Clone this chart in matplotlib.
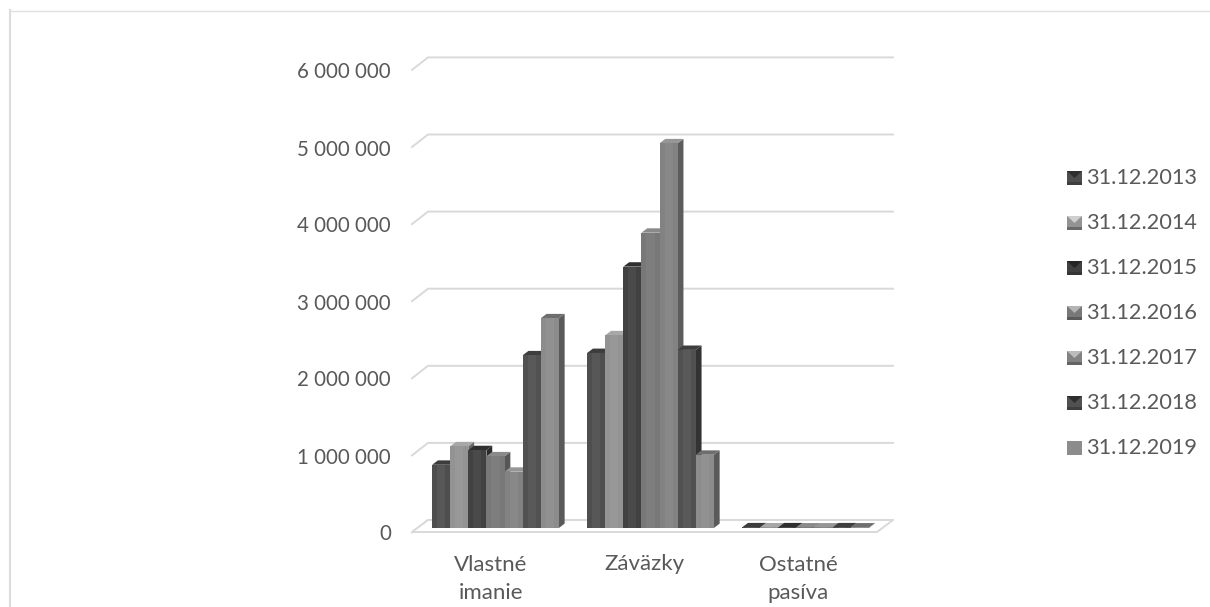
import matplotlib
matplotlib.use("Agg")
import matplotlib.pyplot as plt
from matplotlib.patches import Polygon

plt.rcParams['font.family'] = ['Lato', 'DejaVu Sans']

# Data
categories = ['Vlastné\nimanie', 'Záväzky', 'Ostatné\npasíva']
dates = ['31.12.2013', '31.12.2014', '31.12.2015', '31.12.2016',
         '31.12.2017', '31.12.2018', '31.12.2019']
y2013 = [820000, 2270000, 9000]
y2014 = [1060000, 2500000, 8000]
y2015 = [1010000, 3390000, 9000]
y2016 = [930000, 3830000, 7000]
y2017 = [730000, 4990000, 7000]
y2018 = [2240000, 2310000, 9000]
y2019 = [2720000, 950000, 7000]
series = [y2013, y2014, y2015, y2016, y2017, y2018, y2019]
yticks = [0, 1000000, 2000000, 3000000, 4000000, 5000000, 6000000]

front = ['#4e4e4e', '#939393', '#414141', '#787878', '#828282', '#515151', '#8c8c8c']
top = ['#3c3c3c', '#a8a8a8', '#2f2f2f', '#8a8a8a', '#969696', '#3e3e3e', '#6e6e6e']
side = ['#343434', '#666666', '#2b2b2b', '#565656', '#5c5c5c', '#333333', '#5a5a5a']
mark_top = ['#2e2e2e', '#cfcfcf', '#262626', '#b4b4b4', '#bcbcbc', '#2e2e2e', '#8c8c8c']
mark_low = ['#3e3e3e', '#6a6a6a', '#363636', '#5a5a5a', '#646464', '#3e3e3e', '#8c8c8c']
text_color = '#595959'
grid_color = '#d9d9d9'

W, H = 1210, 607
PX_X = 155.0          # pixels per category
PX_Y = 77.1 / 1e6     # pixels per unit of value
X0, Y0 = 495.5, 528   # pixel position of first category centre / value zero

fig = plt.figure(figsize=(W / 100, H / 100), dpi=100)
ax = fig.add_axes([0, 0, 1, 1])
ax.set_xlim(-X0 / PX_X, (W - X0) / PX_X)
ax.set_ylim((Y0 - H) / PX_Y, Y0 / PX_Y)
ax.axis('off')


def px(x, y):
    # pixel position (from top left) to data coordinates
    return (x - X0) / PX_X, (Y0 - y) / PX_Y


# Bar geometry
bar_w = 18.1 / PX_X
dx = 5.8 / PX_X
dy = 4.4 / PX_Y
n = len(series)

# Outer frame of the chart, only top and left are in view
fig.add_artist(plt.Line2D([10 / W, 10 / W], [0, 1 - 10 / H], color='#dcdcdc', lw=1.5))
fig.add_artist(plt.Line2D([10 / W, 1], [1 - 10.5 / H, 1 - 10.5 / H], color='#e0e0e0', lw=1.0))

# Gridlines on the back wall with the short diagonals on the side wall
for v in yticks:
    xl, yl = px(412, 532.5 - v * PX_Y)
    xb, yb = px(428, 520 - v * PX_Y)
    xr, _ = px(893, 0)
    ax.plot([xl, xb, xr], [yl, yb, yb], color=grid_color, lw=1.4, zorder=1,
            solid_joinstyle='miter')

# Floor
floor = [px(412, 532), px(428, 520), px(893, 520), px(877, 532)]
ax.add_patch(Polygon(floor, closed=True, fc='white', ec=grid_color, lw=1.4, zorder=1))

# Bars, drawn left to right so each front face covers the neighbour's side
for c in range(len(categories)):
    for i in range(n):
        v = series[i][c]
        x = c + (i - (n - 1) / 2) * bar_w
        left, right = x - bar_w / 2, x + bar_w / 2
        ax.add_patch(Polygon([(right, 0), (right + dx, dy), (right + dx, v + dy), (right, v)],
                             closed=True, fc=side[i], ec='none', zorder=2 + i))
        ax.add_patch(Polygon([(left, v), (left + dx, v + dy), (right + dx, v + dy), (right, v)],
                             closed=True, fc=top[i], ec='none', zorder=2 + i))
        ax.bar(x, v, bar_w, color=front[i], zorder=2 + i + 0.1)
        # lighter stripe down the middle of the face
        ax.bar(x, v, bar_w * 0.45, color='white', alpha=0.05, zorder=2 + i + 0.2)

# Value axis labels
for v in yticks:
    xt, yt = px(391, 534.5 - v * 77 / 1e6)
    ax.text(xt, yt, f'{v:,}'.replace(',', ' '), ha='right', va='center',
            fontsize=14.8, color=text_color)

# Category labels
for c, label in enumerate(categories):
    line_y = 564 if '\n' not in label else 579
    xt, yt = px(491 + c * 153.5, line_y)
    ax.text(xt, yt, label, ha='center', va='center', fontsize=16,
            color=text_color, linespacing=1.55)

# Legend
leg_y = [177, 222, 267, 312, 357, 402, 447]
for i, (name, y) in enumerate(zip(dates, leg_y)):
    x0, x1 = 1067 / W, 1082 / W
    y0, y1 = 1 - (y + 8) / H, 1 - (y - 6) / H
    xm, ym = (x0 + x1) / 2, (y0 + y1) / 2
    strip = y0 + 3 / H
    fig.add_artist(Polygon([(x0, y0), (x1, y0), (x1, y1), (x0, y1)], closed=True,
                           fc=front[i], ec='none', transform=fig.transFigure))
    # bevelled top and bottom of the key
    fig.add_artist(Polygon([(x0, y1), (x1, y1), (xm, ym)], closed=True,
                           fc=mark_top[i], ec='none', transform=fig.transFigure))
    fig.add_artist(Polygon([(x0, y0), (x1, y0), (x1, strip), (x0, strip)], closed=True,
                           fc=mark_low[i], ec='none', transform=fig.transFigure))
    fig.text(1086 / W, 1 - (y + 1) / H, name, ha='left', va='center',
             fontsize=15.6, color=text_color)

fig.savefig('out.png', dpi=100)
